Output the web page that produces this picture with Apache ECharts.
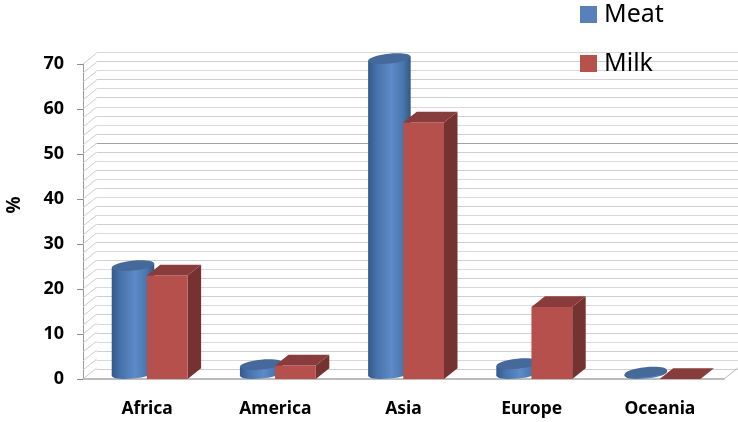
<!DOCTYPE html>
<html><head><meta charset="utf-8">
<style>html,body{margin:0;padding:0;background:#fff}#c{width:738px;height:422px}</style>
<script src="https://cdn.jsdelivr.net/npm/echarts@6/dist/echarts.min.js"></script>
</head><body><div id="c"></div>
<script>
const categories = ["Africa", "America", "Asia", "Europe", "Oceania"];
const meatValues = [24, 2, 70, 2.2, 0.3];
const milkValues = [23, 3, 57, 16, 0];
const yTicks = [0, 10, 20, 30, 40, 50, 60, 70];
const minorLevels = [];
for (let v = 0; v <= 70; v += 2) minorLevels.push(v);

const DX = 13.5, DY = -10.8;
const chart = echarts.init(document.getElementById('c'));
const font = '"Noto Sans", sans-serif';

function milkItem(params, api) {
  const cx = api.coord([api.value(0), 0])[0];
  const y0 = api.coord([0, 0])[1];
  const y = api.coord([0, api.value(1)])[1];
  const band = api.size([1, 0])[0];
  const l = cx + band * -0.002, r = l + band * 0.318;
  const children = [];
  if (y0 - y > 0.5) {
    children.push({type:'polygon', shape:{points:[[r,y],[r+DX,y+DY],[r+DX,y0+DY],[r,y0]]}, style:{fill:'#753231'}});
    children.push({type:'rect', shape:{x:l,y:y,width:r-l,height:y0-y}, style:{fill:'#b5504c'}});
  }
  children.push({type:'polygon', shape:{points:[[l,y],[l+DX,y+DY],[r+DX,y+DY],[r,y]]}, style:{fill:'#8a3b3b'}});
  return {type:'group', children};
}

function meatItem(params, api) {
  const cx = api.coord([api.value(0), 0])[0];
  const y0 = api.coord([0, 0])[1] + DY / 2;
  const y = api.coord([0, api.value(1)])[1] + DY / 2;
  const band = api.size([1, 0])[0];
  const c = cx - band * 0.11, rx = band * 0.166, ry = 5, tilt = 2.2;
  const l = c - rx, r = c + rx;
  const grad = new echarts.graphic.LinearGradient(0,0,1,0,[
    {offset:0,color:'#32598a'},{offset:0.2,color:'#4672aa'},{offset:0.55,color:'#5d8bc9'},
    {offset:0.82,color:'#4a76ad'},{offset:1,color:'#35587f'}]);
  const ell = (cy, fill) => ({type:'ellipse', x:c, y:cy, rotation:tilt/rx, originX:0, originY:0,
    shape:{cx:0,cy:0,rx:rx,ry:ry}, style:{fill}});
  return {type:'group', children:[
    ell(y0, grad),
    {type:'polygon', shape:{points:[[l,y+tilt],[r,y-tilt],[r,y0-tilt],[l,y0+tilt]]}, style:{fill:grad}},
    ell(y, '#44699a')
  ]};
}

function wallItem(params, api) {
  const g = params.coordSys;
  const y = api.coord([0, api.value(0)])[1];
  const ch = [{type:'line', shape:{x1:g.x,y1:y,x2:g.x+DX,y2:y+DY}, style:{stroke:'#cccccc',lineWidth:1}}];
  if (api.value(0) === 0) {
    ch.push({type:'line', shape:{x1:g.x+g.width,y1:y,x2:g.x+g.width+DX,y2:y+DY}, style:{stroke:'#b5b5b5',lineWidth:1}});
  }
  return {type:'group', children:ch};
}

const gridColors = minorLevels.map(v => v === 50 ? '#a2a2a2' : (v % 4 === 0 ? '#cfcfcf' : '#d9d9d9'));

chart.setOption({
  animation:false,
  backgroundColor:'#fff',
  legend:{
    left:580, top:2, padding:0, orient:'vertical', itemWidth:17, itemHeight:17, itemGap:24, icon:'rect',
    textStyle:{fontFamily:font, fontSize:25, color:'#000', padding:[0,0,0,2]},
    data:['Meat','Milk']
  },
  grid:[
    {left:83, right:14, top:64, bottom:43, outerBoundsMode:'none'},
    {left:96.5, right:0, top:52.5, bottom:53, outerBoundsMode:'none'}
  ],
  graphic:[{type:'text', x:15, y:205, rotation:Math.PI/2,
    style:{text:'%', fontFamily:font, fontWeight:'bold', fontSize:19, fill:'#000', align:'center', verticalAlign:'middle'}}],
  xAxis:[
    {type:'category', gridIndex:0, data:categories, axisTick:{show:false},
     axisLine:{lineStyle:{color:'#a6a6a6',width:1.5}},
     axisLabel:{fontFamily:font, fontWeight:'bold', fontSize:17.5, color:'#000', margin:21},
     splitLine:{show:false}},
    {type:'category', gridIndex:1, data:categories, show:false}
  ],
  yAxis:[
    {type:'value', gridIndex:0, min:0, max:70, interval:10,
     axisLine:{show:true, lineStyle:{color:'#9a9a9a'}},
     axisTick:{show:true, length:6, lineStyle:{color:'#8c8c8c'}},
     axisLabel:{fontFamily:font, fontWeight:'bold', fontSize:18, color:'#000', margin:19,
       padding:[2,0,0,0], customValues:yTicks},
     splitLine:{show:false}},
    {type:'value', gridIndex:1, min:0, max:70, interval:2,
     axisLine:{show:false}, axisTick:{show:false}, axisLabel:{show:false},
     splitLine:{show:true, lineStyle:{color:gridColors, width:1.2}}}
  ],
  series:[
    {type:'custom', name:'wall', xAxisIndex:0, yAxisIndex:0, silent:true, clip:false, z:1,
     data:minorLevels.map(v=>[v]), encode:{y:0}, renderItem:wallItem},
    {type:'custom', name:'Meat', xAxisIndex:0, yAxisIndex:0, clip:false, z:3,
     itemStyle:{color:'#5a80bb'},
     data:meatValues.map((v,i)=>[i,v]), encode:{x:0,y:1}, renderItem:meatItem},
    {type:'custom', name:'Milk', xAxisIndex:0, yAxisIndex:0, clip:false, z:4,
     itemStyle:{color:'#b8504c'},
     data:milkValues.map((v,i)=>[i,v]), encode:{x:0,y:1}, renderItem:milkItem}
  ]
});
</script></body></html>
